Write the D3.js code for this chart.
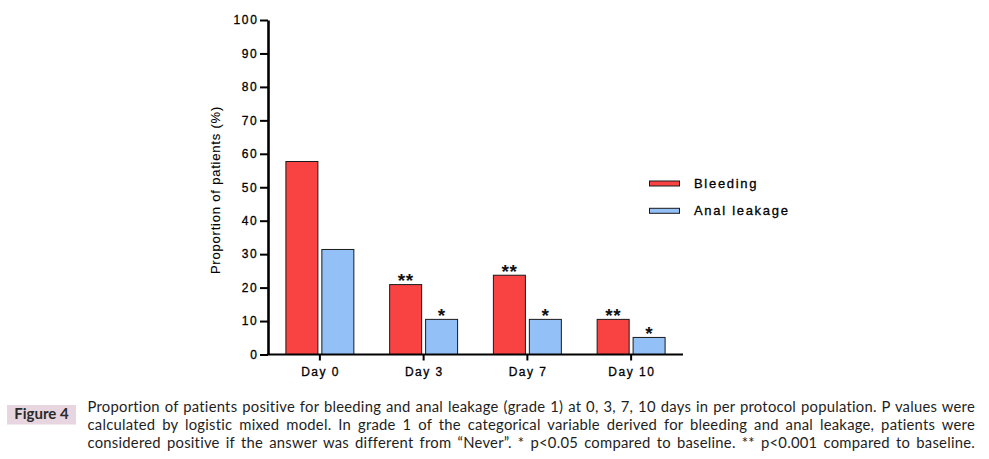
<!DOCTYPE html>
<html>
<head>
<meta charset="utf-8">
<script src="https://cdn.jsdelivr.net/npm/d3@7"></script>
<style>
  html, body { margin: 0; padding: 0; background: #fff; }
  svg { display: block; }
</style>
</head>
<body>
<svg id="chart" width="989" height="459"></svg>
<script>
// ---- data ----
const categories = ["Day 0", "Day 3", "Day 7", "Day 10"];
const seriesNames = ["Bleeding", "Anal leakage"];
const bleeding = [57.7, 20.9, 23.7, 10.5];
const analLeakage = [31.4, 10.5, 10.5, 5.1];
const bleedingSig = ["", "**", "**", "**"];
const leakageSig = ["", "*", "*", "*"];
const yTicks = [0, 10, 20, 30, 40, 50, 60, 70, 80, 90, 100];
const yTitle = "Proportion of patients (%)";
const figureLabel = "Figure 4";
const captionLines = [
  "Proportion of patients positive for bleeding and anal leakage (grade 1) at 0, 3, 7, 10 days in per protocol population. P values were",
  "calculated by logistic mixed model. In grade 1 of the categorical variable derived for bleeding and anal leakage, patients were",
  "considered positive if the answer was different from \u201cNever\u201d. * p<0.05 compared to baseline. ** p<0.001 compared to baseline."
];

(function () {
const colors = { "Bleeding": "#f94343", "Anal leakage": "#93c0f6" };
const seriesValues = { "Bleeding": bleeding, "Anal leakage": analLeakage };
const seriesSig = { "Bleeding": bleedingSig, "Anal leakage": leakageSig };

const svg = d3.select("#chart");
const chartFont = "'Liberation Sans', Arial, sans-serif";

const pLeft = 268, pRight = 683, pTop = 20, pBottom = 354.5;

const y = d3.scaleLinear().domain([0, 100]).range([pBottom, pTop]);
const x0 = d3.scaleBand().domain(categories).range([pLeft, pRight])
  .paddingInner(0.345).paddingOuter(0.1725);
const x1 = d3.scaleBand().domain(seriesNames).range([0, x0.bandwidth()]).paddingInner(0.11);

function medium(sel) {
  return sel.attr("font-weight", "normal").attr("stroke", "#000").attr("stroke-width", 0.3);
}

// bars
const rows = [];
categories.forEach((c, i) => {
  seriesNames.forEach(s => rows.push({ cat: c, s, v: seriesValues[s][i], sig: seriesSig[s][i] }));
});

const g = svg.append("g");
g.selectAll("rect.bar").data(rows).enter().append("rect")
  .attr("class", "bar")
  .attr("x", d => x0(d.cat) + x1(d.s))
  .attr("y", d => y(d.v))
  .attr("width", x1.bandwidth())
  .attr("height", d => y(0) - y(d.v))
  .attr("fill", d => colors[d.s])
  .attr("stroke", "#1a1a1a")
  .attr("stroke-width", 1);

// significance marks
g.selectAll("text.sig").data(rows.filter(d => d.sig)).enter().append("text")
  .attr("class", "sig")
  .attr("x", d => x0(d.cat) + x1(d.s) + x1.bandwidth() / 2)
  .attr("y", d => y(d.v) + 2.5)
  .attr("text-anchor", "middle")
  .attr("font-family", chartFont)
  .attr("font-size", 19)
  .attr("font-weight", "bold")
  .attr("letter-spacing", 0.5)
  .attr("fill", "#111")
  .text(d => d.sig);

// y axis
const yAxis = svg.append("g").attr("transform", `translate(${pLeft},0)`)
  .call(d3.axisLeft(y).tickValues(yTicks).tickSize(8).tickSizeOuter(0));
yAxis.select(".domain").attr("stroke", "#000").attr("stroke-width", 2.6);
yAxis.selectAll(".tick line").attr("stroke", "#000").attr("stroke-width", 2);
yAxis.selectAll(".tick text")
  .attr("x", -9.6)
  .attr("font-family", chartFont)
  .attr("font-size", 12)
  .attr("letter-spacing", 1.6)
  .attr("fill", "#000")
  .call(medium);

// x axis
const xAxis = svg.append("g").attr("transform", `translate(0,${pBottom})`)
  .call(d3.axisBottom(x0).tickSize(6).tickSizeOuter(0));
xAxis.select(".domain").attr("stroke", "#000").attr("stroke-width", 2)
  .attr("d", `M${pLeft - 1},0H${pRight}`);
xAxis.selectAll(".tick line").attr("stroke", "#000").attr("stroke-width", 2);
xAxis.selectAll(".tick text")
  .attr("y", 21.5).attr("dy", 0)
  .attr("dx", 0.7)
  .attr("font-family", chartFont)
  .attr("font-size", 12)
  .attr("letter-spacing", 1.5)
  .attr("fill", "#000")
  .call(medium);

// y title
svg.append("text")
  .attr("transform", `translate(220,190) rotate(-90)`)
  .attr("text-anchor", "middle")
  .attr("font-family", chartFont)
  .attr("font-size", 13)
  .attr("letter-spacing", 0.8)
  .attr("fill", "#000")
  .attr("stroke", "#000").attr("stroke-width", 0.1)
  .text(yTitle);

// legend
const legendY = [183.5, 210.8];
const legend = svg.append("g");
seriesNames.forEach((s, i) => {
  legend.append("rect")
    .attr("x", 649.5).attr("y", legendY[i] - 2.5)
    .attr("width", 30).attr("height", 5)
    .attr("fill", colors[s]).attr("stroke", "#1a1a1a").attr("stroke-width", 1);
  legend.append("text")
    .attr("x", 694).attr("y", legendY[i] + 4.6)
    .attr("font-family", chartFont)
    .attr("font-size", 13)
    .attr("letter-spacing", 1.7)
    .attr("fill", "#000")
    .call(medium)
    .text(s);
});

// caption
const capFont = "Lato, 'Open Sans', sans-serif";
svg.append("rect")
  .attr("x", 7).attr("y", 405).attr("width", 69).attr("height", 19.5)
  .attr("fill", "#e7d5e0");
svg.append("text")
  .attr("x", 41.5).attr("y", 419)
  .attr("text-anchor", "middle")
  .attr("font-family", capFont)
  .attr("font-size", 15)
  .attr("font-weight", "bold")
  .attr("fill", "#2a2a2a")
  .text(figureLabel);

const capX = 87.5, capW = 887.5;
const capBase = [412, 430, 448];
captionLines.forEach((line, i) => {
  const t = svg.append("text")
    .attr("x", capX).attr("y", capBase[i])
    .attr("font-family", capFont)
    .attr("font-size", 14.8)
    .attr("letter-spacing", 0.25)
    .attr("fill", "#1e1e1e")
    .text(line);
  const natural = t.node().getComputedTextLength();
  const spaces = (line.match(/ /g) || []).length;
  if (spaces > 0) t.attr("word-spacing", (capW - natural) / spaces);
});
})();
</script>
</body>
</html>
